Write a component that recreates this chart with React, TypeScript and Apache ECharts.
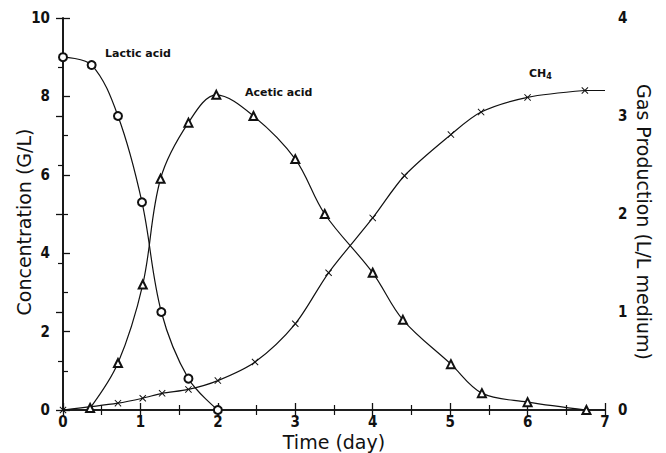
import React, { useEffect, useRef } from "react";
import * as echarts from "echarts";

const lacticX = [0, 0.37, 0.71, 1.02, 1.27, 1.62, 2.0];
const lacticY = [9.0, 8.8, 7.5, 5.3, 2.5, 0.8, 0.0];

const aceticX = [0.35, 0.71, 1.03, 1.26, 1.62, 1.98, 2.46, 3.0, 3.38, 4.0, 4.39, 5.01, 5.41, 6.0, 6.76];
const aceticY = [0.05, 1.2, 3.2, 5.9, 7.33, 8.04, 7.5, 6.4, 5.0, 3.5, 2.3, 1.17, 0.43, 0.2, 0.0];

const ch4X = [0, 0.71, 1.03, 1.28, 1.62, 2.0, 2.48, 3.0, 3.43, 4.0, 4.41, 5.01, 5.4, 6.0, 6.74];
const ch4Y = [0, 0.07, 0.12, 0.17, 0.21, 0.3, 0.49, 0.88, 1.4, 1.96, 2.39, 2.81, 3.04, 3.19, 3.26];

const xTicks = { min: 0, max: 7, interval: 1 };
const leftTicks = { min: 0, max: 10, interval: 2 };
const rightTicks = { min: 0, max: 4, interval: 1 };

const xTitle = "Time (day)";
const leftTitle = "Concentration (G/L)";
const rightTitle = "Gas Production (L/L medium)";

const crossPath =
  "path://M0,1L1,0L5,4L9,0L10,1L6,5L10,9L9,10L5,6L1,10L0,9L4,5Z";

const zip = (xs: number[], ys: number[]) => xs.map((x, i) => [x, ys[i]]);

export default function App() {
  const ref = useRef<HTMLDivElement>(null);
  useEffect(() => {
    if (!ref.current) return;
    const chart = echarts.init(ref.current, undefined, { renderer: "svg" });
    const axisLine = { show: true, lineStyle: { color: "#111", width: 1.6 } };
    const tickStyle = { inside: true, length: 7, lineStyle: { color: "#111", width: 1.3 } };
    const minorStyle = { show: true, splitNumber: 2, length: 5, lineStyle: { color: "#111", width: 1.2 } };
    const labelFont = {
      color: "#111",
      fontFamily: "DejaVu Sans Condensed",
      fontWeight: "bold" as const,
      fontSize: 15,
    };
    const titleStyle = {
      fontFamily: "DejaVu Sans",
      fontSize: 19,
      fill: "#111",
      align: "center" as const,
      verticalAlign: "middle" as const,
    };
    chart.setOption({
      animation: false,
      backgroundColor: "#fff",
      grid: { left: 63, right: 61, top: 18, bottom: 43, containLabel: false, outerBoundsMode: "none" },
      xAxis: [
        {
          type: "value",
          ...xTicks,
          position: "bottom",
          axisLine,
          axisTick: tickStyle,
          minorTick: minorStyle,
          splitLine: { show: false },
          axisLabel: { ...labelFont, margin: 4 },
        },
        {
          type: "value",
          ...xTicks,
          position: "top",
          axisLine,
          axisTick: tickStyle,
          minorTick: minorStyle,
          splitLine: { show: false },
          axisLabel: { show: false },
        },
      ],
      yAxis: [
        {
          type: "value",
          ...leftTicks,
          position: "left",
          axisLine,
          axisTick: tickStyle,
          minorTick: minorStyle,
          splitLine: { show: false },
          axisLabel: { ...labelFont, margin: 13 },
        },
        {
          type: "value",
          ...rightTicks,
          position: "right",
          axisLine,
          axisTick: tickStyle,
          minorTick: minorStyle,
          splitLine: { show: false },
          axisLabel: { ...labelFont, margin: 13 },
        },
      ],
      series: [
        {
          name: "Lactic acid",
          type: "line",
          data: zip(lacticX, lacticY),
          smooth: 0.35,
          symbol: "emptyCircle",
          symbolSize: 8,
          lineStyle: { color: "#111", width: 1.2 },
          itemStyle: { color: "#111", borderColor: "#111", borderWidth: 1.2 },
          z: 3,
        },
        {
          name: "Acetic acid",
          type: "line",
          data: zip(aceticX, aceticY),
          smooth: 0.35,
          symbol: "emptyTriangle",
          symbolSize: 8,
          lineStyle: { color: "#111", width: 1.2 },
          itemStyle: { color: "#111", borderColor: "#111", borderWidth: 1.2 },
          z: 3,
        },
        {
          name: "CH4",
          type: "line",
          yAxisIndex: 1,
          data: zip(ch4X, ch4Y),
          smooth: 0.3,
          symbol: crossPath,
          symbolSize: 7,
          lineStyle: { color: "#111", width: 1.2 },
          itemStyle: { color: "#111" },
          z: 3,
        },
        {
          name: "CH4 tail",
          type: "line",
          yAxisIndex: 1,
          data: [
            [ch4X[ch4X.length - 1], ch4Y[ch4Y.length - 1]],
            [7, ch4Y[ch4Y.length - 1]],
          ],
          symbol: "none",
          lineStyle: { color: "#111", width: 1.2 },
          z: 2,
        },
      ],
      graphic: [
        {
          type: "text",
          x: 334,
          y: 442,
          style: { ...titleStyle, text: xTitle },
        },
        {
          type: "text",
          x: 24,
          y: 222,
          rotation: Math.PI / 2,
          style: { ...titleStyle, text: leftTitle },
        },
        {
          type: "text",
          x: 644,
          y: 222,
          rotation: -Math.PI / 2,
          style: { ...titleStyle, text: rightTitle },
        },
        {
          type: "text",
          left: 105,
          top: 48,
          style: {
            text: "Lactic acid",
            fontFamily: "DejaVu Sans",
            fontWeight: "bold",
            fontSize: 11,
            fill: "#111",
          },
        },
        {
          type: "text",
          left: 245,
          top: 87,
          style: {
            text: "Acetic acid",
            fontFamily: "DejaVu Sans",
            fontWeight: "bold",
            fontSize: 11,
            fill: "#111",
          },
        },
        {
          type: "text",
          left: 529,
          top: 68,
          style: {
            text: "{a|CH}{b|4}",
            rich: {
              a: { fontFamily: "DejaVu Sans", fontWeight: "bold", fontSize: 11, fill: "#111", color: "#111" },
              b: { fontFamily: "DejaVu Sans", fontWeight: "bold", fontSize: 8, fill: "#111", color: "#111", padding: [6, 0, 0, 0] },
            },
          },
        },
      ],
    });
    return () => chart.dispose();
  }, []);
  return <div ref={ref} style={{ width: 666, height: 453, position: "absolute", left: 0, top: 0 }} />;
}
